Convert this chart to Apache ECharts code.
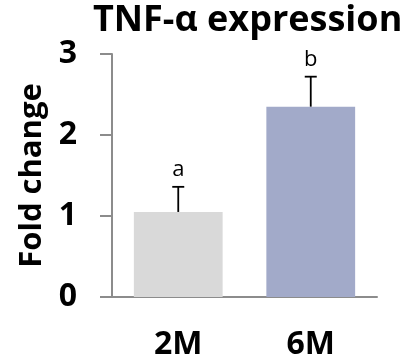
<!DOCTYPE html>
<html>
<head>
<meta charset="utf-8">
<script src="https://cdn.jsdelivr.net/npm/echarts@6/dist/echarts.min.js"></script>
<style>
  html, body { margin: 0; padding: 0; background: #fff; }
  #chart { width: 416px; height: 361px; }
</style>
</head>
<body>
<div id="chart"></div>
<script>
const categories = ['2M', '6M'];
const foldChange = [1.05, 2.35];
const errorTop = [1.36, 2.72];
const letters = ['a', 'b'];
const barColors = ['#d9d9d9', '#a2aac9'];
const yTicks = [0, 1, 2, 3];

const font = '"Open Sans", sans-serif';

let myChart = echarts.init(document.getElementById('chart'));
myChart.setOption({
  animation: false,
  title: {
    text: 'TNF-α expression',
    left: 88,
    top: -2,
    textStyle: { fontFamily: font, fontWeight: 'bold', fontSize: 36, color: '#000' }
  },
  grid: { left: 112, right: 39, top: 54, bottom: 64 },
  xAxis: {
    type: 'category',
    data: categories,
    axisLine: { lineStyle: { color: '#8c8c8c', width: 2 } },
    axisTick: { show: false },
    axisLabel: { fontFamily: font, fontWeight: 'bold', fontSize: 32, color: '#000', margin: 32 }
  },
  yAxis: {
    type: 'value',
    min: yTicks[0],
    max: yTicks[yTicks.length - 1],
    interval: 1,
    name: 'Fold change',
    nameLocation: 'middle',
    nameGap: 62,
    nameTextStyle: { fontFamily: font, fontWeight: 'bold', fontSize: 31, color: '#000' },
    axisLine: { show: true, lineStyle: { color: '#8c8c8c', width: 2 } },
    axisTick: { show: true, length: 12, lineStyle: { color: '#8c8c8c', width: 2 } },
    axisLabel: { fontFamily: font, fontWeight: 'bold', fontSize: 32, color: '#000', margin: 35 },
    splitLine: { show: false }
  },
  series: [
    {
      type: 'bar',
      barWidth: '67%',
      data: foldChange.map((v, i) => ({ value: v, itemStyle: { color: barColors[i] } }))
    },
    {
      type: 'custom',
      z: 5,
      data: foldChange.map((v, i) => [i, v, errorTop[i]]),
      renderItem: function (params, api) {
        const base = api.coord([api.value(0), api.value(1)]);
        const top = api.coord([api.value(0), api.value(2)]);
        const capHalf = 6;
        return {
          type: 'group',
          children: [
            { type: 'line', shape: { x1: base[0], y1: base[1], x2: top[0], y2: top[1] }, style: { stroke: '#000', lineWidth: 1.8 } },
            { type: 'line', shape: { x1: top[0] - capHalf, y1: top[1], x2: top[0] + capHalf, y2: top[1] }, style: { stroke: '#000', lineWidth: 1.8 } },
            { type: 'text', style: { text: letters[params.dataIndex], x: top[0], y: top[1] - 6, textAlign: 'center', textVerticalAlign: 'bottom', fontFamily: font, fontSize: 22, fill: '#000' } }
          ]
        };
      }
    }
  ]
});
</script>
</body>
</html>
